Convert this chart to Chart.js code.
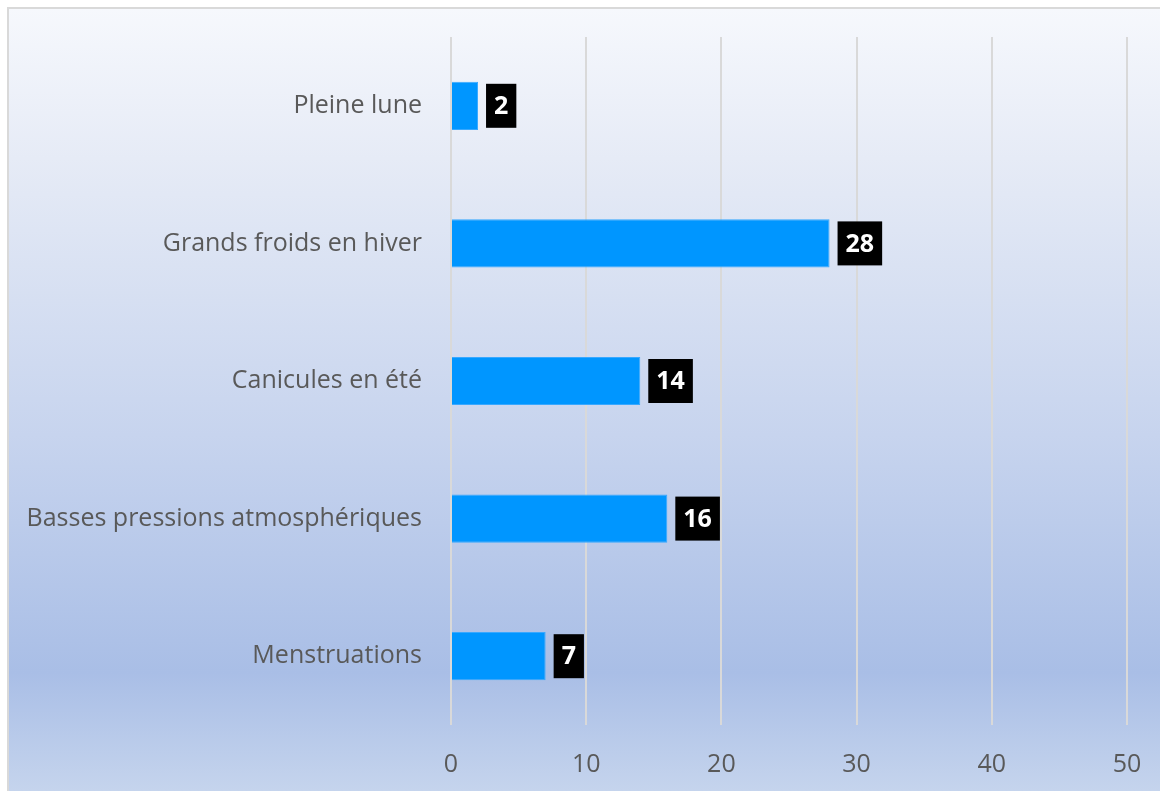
<!DOCTYPE html>
<html>
<head>
<meta charset="utf-8">
<script src="https://cdn.jsdelivr.net/npm/chart.js@4"></script>
<style>
  html, body { margin: 0; padding: 0; background: #ffffff; }
  #wrap { width: 1160px; height: 791px; position: relative; }
</style>
</head>
<body>
<div id="wrap"><canvas id="chart"></canvas></div>
<script>
  var categories = ["Pleine lune", "Grands froids en hiver", "Canicules en été", "Basses pressions atmosphériques", "Menstruations"];
  var values = [2, 28, 14, 16, 7];
  var xTicks = [0, 10, 20, 30, 40, 50];

  var FONT = "'Open Sans', 'Noto Sans', sans-serif";

  // gradient background + thin frame, like the office chart area
  var backgroundPlugin = {
    id: "bg",
    beforeDraw: function (chart) {
      var ctx = chart.ctx;
      var h = chart.height;
      var g = ctx.createLinearGradient(0, 0, 0, h);
      g.addColorStop(0, "#f7f9fd");
      g.addColorStop(0.2, "#e6ebf6");
      g.addColorStop(0.55, "#c7d4ee");
      g.addColorStop(0.85, "#a9bee6");
      g.addColorStop(1, "#c5d4ed");
      ctx.save();
      ctx.fillStyle = g;
      ctx.fillRect(0, 0, chart.width, h);
      ctx.fillStyle = "#ffffff";
      ctx.fillRect(0, 0, chart.width, 7);
      ctx.fillRect(0, 0, 7, h);
      ctx.strokeStyle = "#d9d9d9";
      ctx.lineWidth = 2;
      ctx.strokeRect(8, 8, chart.width + 10, h + 10);
      ctx.restore();
    }
  };

  // black boxes with white bold value at the end of each bar
  var valueLabelPlugin = {
    id: "valueLabels",
    afterDatasetsDraw: function (chart) {
      var ctx = chart.ctx;
      var meta = chart.getDatasetMeta(0);
      ctx.save();
      ctx.font = "bold 25px " + FONT;
      ctx.textBaseline = "middle";
      ctx.textAlign = "center";
      meta.data.forEach(function (bar, i) {
        var txt = String(values[i]);
        var w = ctx.measureText(txt).width + 16;
        var boxH = 44;
        var x0 = bar.x + 8;
        ctx.fillStyle = "#000000";
        ctx.fillRect(x0, bar.y - boxH / 2, w, boxH);
        ctx.fillStyle = "#ffffff";
        ctx.fillText(txt, x0 + w / 2, bar.y + 1);
      });
      ctx.restore();
    }
  };

  new Chart(document.getElementById("chart"), {
    type: "bar",
    data: {
      labels: categories,
      datasets: [{
        data: values,
        backgroundColor: "#0096ff",
        borderColor: "#38a8ff",
        borderWidth: 1,
        categoryPercentage: 1,
        barPercentage: 0.35
      }]
    },
    options: {
      indexAxis: "y",
      responsive: true,
      maintainAspectRatio: false,
      animation: false,
      layout: { padding: { top: 37, right: 33, left: 0, bottom: 0 } },
      scales: {
        x: {
          min: 0,
          max: 50,
          afterBuildTicks: function (scale) {
            scale.ticks = xTicks.map(function (v) { return { value: v }; });
          },
          afterFit: function (scale) {
            scale.height = 66;
            scale.paddingLeft = 0;
            scale.paddingRight = 0;
          },
          grid: { color: "#d9d9d9", lineWidth: 2, drawTicks: false },
          border: { display: false },
          ticks: {
            color: "#595959",
            padding: 25,
            font: { family: FONT, size: 25 }
          }
        },
        y: {
          afterFit: function (scale) {
            scale.width = 451;
            scale.paddingTop = 0;
            scale.paddingBottom = 0;
          },
          grid: { display: false, drawTicks: false },
          border: { display: false },
          ticks: {
            color: "#595959",
            padding: 29,
            font: { family: FONT, size: 25 }
          }
        }
      },
      plugins: {
        legend: { display: false },
        tooltip: { enabled: false }
      }
    },
    plugins: [backgroundPlugin, valueLabelPlugin]
  });
</script>
</body>
</html>
